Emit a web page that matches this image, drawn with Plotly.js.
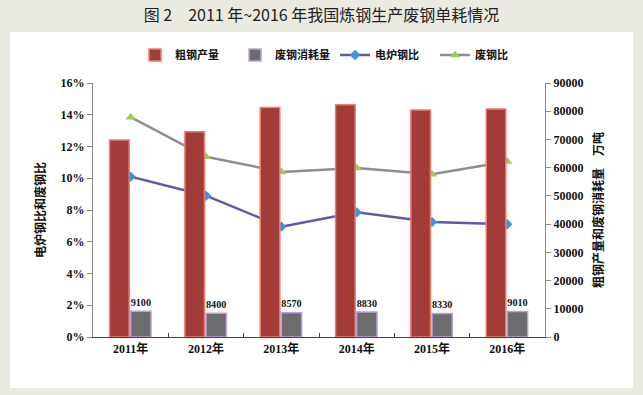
<!DOCTYPE html>
<html>
<head>
<meta charset="utf-8">
<script src="https://cdn.plot.ly/plotly-3.0.1.min.js"></script>
<style>html,body{margin:0;padding:0;background:#ebeae1;}#chart{width:643px;height:395px;}</style>
</head>
<body>
<div id="chart"></div>
<script>
const years = ['2011年', '2012年', '2013年', '2014年', '2015年', '2016年'];
const crudeSteel = [69800, 72700, 81300, 82300, 80400, 80800];   // 万吨
const scrapUse = [9100, 8400, 8570, 8830, 8330, 9010];           // 万吨
const eafRatio = [10.1, 8.9, 6.95, 7.85, 7.25, 7.1];             // %
const scrapRatio = [13.85, 11.35, 10.4, 10.65, 10.25, 11.05];    // %
const yTicksLeft = [0, 2, 4, 6, 8, 10, 12, 14, 16];
const yTicksRight = [0, 10000, 20000, 30000, 40000, 50000, 60000, 70000, 80000, 90000];

const tickFont = {family: 'Liberation Serif, Noto Sans CJK SC, serif', size: 12, color: '#111', weight: 'bold'};
const cjkFont = {family: 'Noto Sans CJK SC, sans-serif', size: 11, color: '#111', weight: 'bold'};

const traces = [
  {type: 'bar', name: '粗钢产量', x: years, y: crudeSteel, yaxis: 'y2',
   marker: {color: '#a23c38', line: {color: '#f07a6e', width: 1.5}}, width: 0.26, offset: -0.28},
  {type: 'bar', name: '废钢消耗量', x: years, y: scrapUse, yaxis: 'y2',
   marker: {color: '#6c6c6c', line: {color: '#b9a0dc', width: 1.5}}, width: 0.27, offset: 0.0,
   text: scrapUse.map(String), textposition: 'outside', cliponaxis: false,
   textfont: {family: 'Liberation Serif, serif', size: 12, color: '#111', weight: 'bold'}},
  {type: 'scatter', mode: 'lines+markers', name: '电炉钢比', x: years, y: eafRatio, yaxis: 'y',
   line: {color: '#5b5aa8', width: 2.5}, marker: {symbol: 'diamond', size: 8, color: '#3d93db'}},
  {type: 'scatter', mode: 'lines+markers', name: '废钢比', x: years, y: scrapRatio, yaxis: 'y',
   line: {color: '#8e8e8e', width: 2.5}, marker: {symbol: 'triangle-up', size: 9, color: '#9dcb5c'}}
];

const layout = {
  width: 643, height: 395,
  margin: {l: 93, r: 98, t: 83, b: 58},
  paper_bgcolor: '#ebeae1', plot_bgcolor: '#ffffff',
  showlegend: true,
  legend: {orientation: 'h', x: 0.093, xanchor: 'left', y: 1.11, yanchor: 'middle',
           font: cjkFont, bgcolor: 'rgba(0,0,0,0)', traceorder: 'normal',
           entrywidth: 55, entrywidthmode: 'pixels'},
  title: {text: '图 2　2011 年~2016 年我国炼钢生产废钢单耗情况', x: 0.5, xanchor: 'center',
          y: 0.962, yanchor: 'middle', font: {family: 'Noto Sans CJK SC, sans-serif', size: 16, color: '#222'}},
  barmode: 'overlay',
  xaxis: {type: 'category', showline: true, linecolor: '#444', linewidth: 1.2,
          ticks: 'inside', tickson: 'boundaries', ticklen: 4, tickcolor: '#444',
          tickfont: tickFont, showgrid: false, zeroline: false},
  yaxis: {range: [0, 16], tickvals: yTicksLeft, ticktext: yTicksLeft.map(v => v + '%'),
          showline: true, linecolor: '#888', ticks: 'outside', ticklen: 5, tickcolor: '#888',
          tickfont: tickFont, showgrid: false, zeroline: false,
          title: {text: '电炉钢比和废钢比', font: {family: 'Noto Sans CJK SC, sans-serif', size: 12, color: '#111', weight: 'bold'}, standoff: 12}},
  yaxis2: {overlaying: 'y', side: 'right', range: [0, 90000], tickvals: yTicksRight,
           ticktext: yTicksRight.map(String),
           showline: true, linecolor: '#888', ticks: 'outside', ticklen: 5, tickcolor: '#888',
           tickfont: tickFont, showgrid: false, zeroline: false,
           title: {text: '粗钢产量和废钢消耗量　万吨', font: {family: 'Noto Sans CJK SC, sans-serif', size: 12, color: '#111', weight: 'bold'}, standoff: 12}},
  shapes: [{type: 'rect', xref: 'paper', yref: 'paper', x0: -0.1836, x1: 1.1947, y0: -0.2008, y1: 1.2008,
            fillcolor: '#ffffff', line: {width: 0}, layer: 'below'}]
};

Plotly.newPlot('chart', traces, layout, {displayModeBar: false, staticPlot: true});
</script>
</body>
</html>
